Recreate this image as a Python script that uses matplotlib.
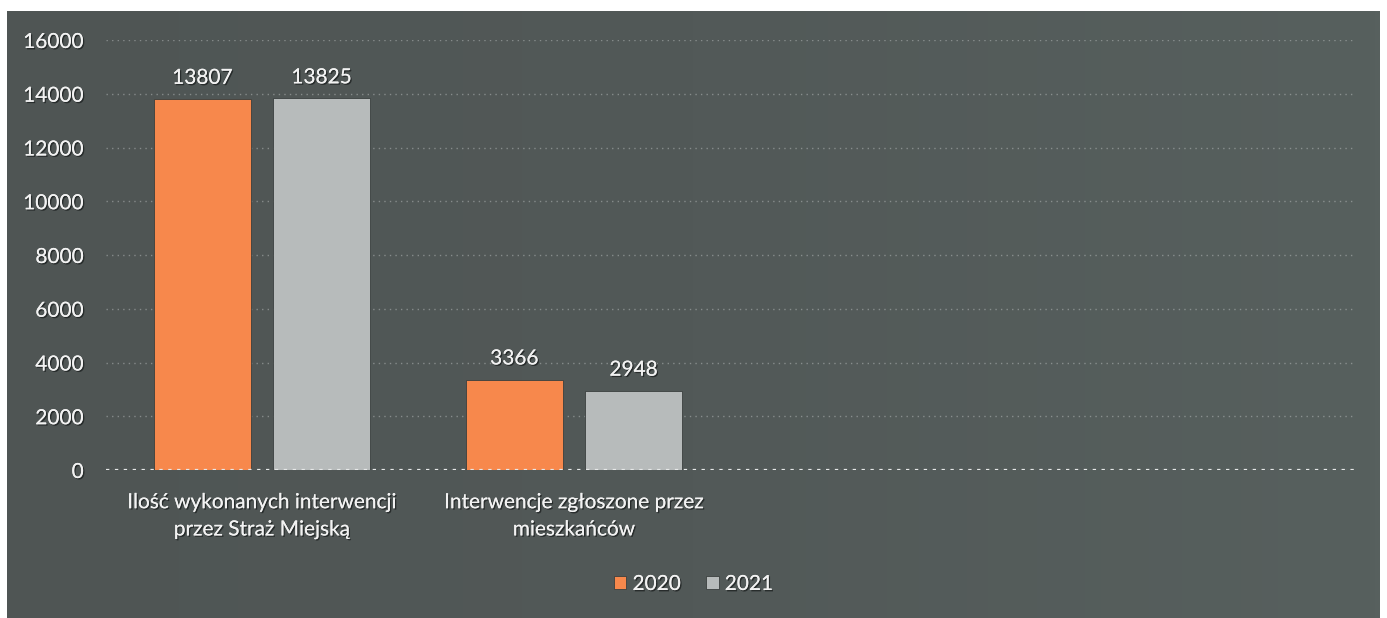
import numpy as np
import matplotlib
matplotlib.use("Agg")
from matplotlib import pyplot as plt
from matplotlib import patheffects as pe

categories = ["Ilość wykonanych interwencji\nprzez Straż Miejską",
              "Interwencje zgłoszone przez\nmieszkańców", "", ""]
values_2020 = [13807, 3366]
values_2021 = [13825, 2948]
series_names = ["2020", "2021"]
y_ticks = [0, 2000, 4000, 6000, 8000, 10000, 12000, 14000, 16000]

plt.rcParams['font.family'] = ['Lato', 'DejaVu Sans']
txt_color = '#f2f2f2'
fs = 15
shadow = [pe.withSimplePatchShadow(offset=(1, -1), shadow_rgbFace='#1e2222', alpha=0.8), pe.Normal()]

fig = plt.figure(figsize=(13.87, 6.18), dpi=100, facecolor='white')

# dark panel with a soft horizontal gradient
bg = fig.add_axes([7 / 1387, 0, (1380 - 7) / 1387, 1 - 11 / 618])
grad = np.linspace(0, 1, 256).reshape(1, -1)
cmap = matplotlib.colors.LinearSegmentedColormap.from_list('bg', ['#4f5554', '#525958', '#57605e'])
bg.imshow(grad, aspect='auto', cmap=cmap, extent=[0, 1, 0, 1])
bg.set_axis_off()

ax = fig.add_axes([106 / 1387, 1 - 470 / 618, (1354 - 106) / 1387, (470 - 40) / 618])
ax.set_facecolor('none')

x = np.arange(len(categories))
w = 0.312
gap = 0.07
off = (w + gap) / 2
b1 = ax.bar(x[:len(values_2020)] - off, values_2020, w, color='#f7884c', label=series_names[0],
            edgecolor='#3a3f3e', linewidth=0.6, zorder=3)
b2 = ax.bar(x[:len(values_2021)] + off, values_2021, w, color='#b7bbbb', label=series_names[1],
            edgecolor='#3a3f3e', linewidth=0.6, zorder=3)

for bars in (b1, b2):
    for r in bars:
        t = ax.annotate(f"{int(r.get_height())}", (r.get_x() + r.get_width() / 2, r.get_height()),
                        xytext=(0, 8), textcoords='offset points', ha='center', va='bottom',
                        fontsize=fs, color=txt_color)
        t.set_path_effects(shadow)

ax.set_xlim(-0.5, len(categories) - 0.5)
ax.set_ylim(0, 16000)
ax.set_yticks(y_ticks)
ax.set_yticklabels([str(v) for v in y_ticks], fontsize=fs, color=txt_color)
ax.set_xticks(x)
ax.set_xticklabels(categories, fontsize=fs, color=txt_color, linespacing=1.45)
for lab in ax.get_xticklabels() + ax.get_yticklabels():
    lab.set_path_effects(shadow)
ax.tick_params(axis='y', length=0, pad=16)
ax.tick_params(axis='x', length=0, pad=16)
for s in ax.spines.values():
    s.set_visible(False)

ax.grid(axis='y', linestyle=(0, (1, 3)), color='#c8cccc', alpha=0.45, linewidth=1, zorder=0)
ax.axhline(0, linestyle=(0, (1.5, 2.5)), color='#e6e8e8', linewidth=1.6, zorder=4)

leg = fig.legend(handles=[b1, b2], labels=series_names, loc='center', bbox_to_anchor=(0.5, 1 - 584 / 618),
                 ncol=2, frameon=False, fontsize=fs, handlelength=0.6, handleheight=0.6,
                 handletextpad=0.3, columnspacing=1.2)
for t in leg.get_texts():
    t.set_color(txt_color)
    t.set_path_effects(shadow)

fig.savefig('out.png', dpi=100, facecolor='white')
